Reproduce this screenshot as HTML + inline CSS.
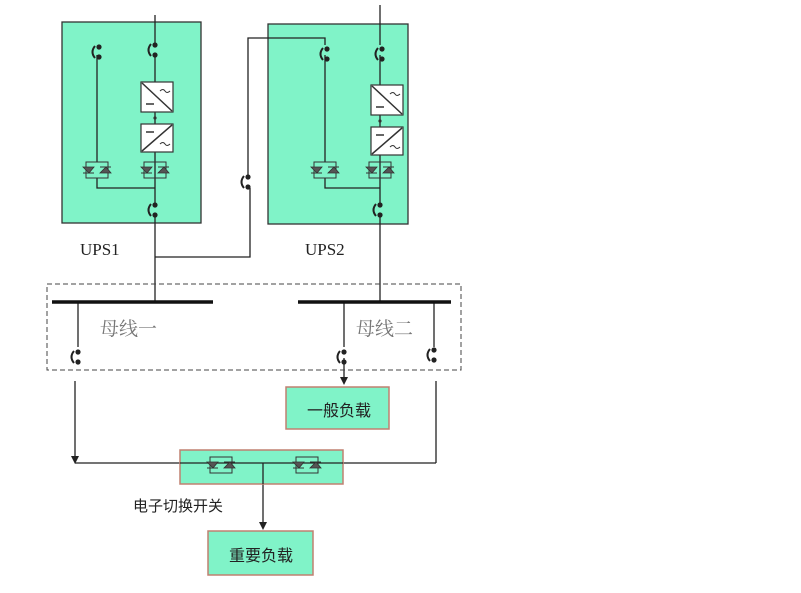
<!DOCTYPE html>
<html><head><meta charset="utf-8"><style>
html,body{margin:0;padding:0;background:#fff;width:801px;height:593px;overflow:hidden}
svg{display:block}
text{font-family:"Liberation Sans","Noto Sans CJK SC",sans-serif}
</style></head><body>
<svg width="801" height="593" viewBox="0 0 801 593" xmlns="http://www.w3.org/2000/svg">
<defs>
<g id="brk">
<path d="M-4,-6 Q-9,0 -4,6" fill="none" stroke="#222" stroke-width="2"/>
<circle cx="0" cy="-5" r="2.6" fill="#222"/>
<circle cx="0" cy="5" r="2.6" fill="#222"/>
</g>
<g id="thy">
<rect x="-11" y="-8" width="22" height="16" fill="none" stroke="#333" stroke-width="1"/>
<path d="M-14,-3 L-3,-3 L-8,3 Z" fill="#555" stroke="#333" stroke-width="0.8"/>
<line x1="-14" y1="3" x2="-3" y2="3" stroke="#333"/>
<path d="M3,3 L14,3 L9,-3 Z" fill="#555" stroke="#333" stroke-width="0.8"/>
<line x1="3" y1="-3" x2="14" y2="-3" stroke="#333"/>
</g>
<g id="rect">
<rect x="0" y="0" width="32" height="30" fill="#fff" stroke="#333" stroke-width="1.2"/>
<line x1="1" y1="1" x2="31" y2="29" stroke="#333" stroke-width="1.5"/>
<line x1="5" y1="22" x2="13" y2="22" stroke="#333" stroke-width="1.5"/>
<path d="M19,9 q3,-3 5,0 q2,3 5,0" fill="none" stroke="#333"/>
</g>
<g id="inv">
<rect x="0" y="0" width="32" height="28" fill="#fff" stroke="#333" stroke-width="1.2"/>
<line x1="1" y1="27" x2="31" y2="1" stroke="#333" stroke-width="1.5"/>
<line x1="5" y1="8" x2="13" y2="8" stroke="#333" stroke-width="1.5"/>
<path d="M19,20 q3,-3 5,0 q2,3 5,0" fill="none" stroke="#333"/>
</g>
</defs>

<rect x="62" y="22" width="139" height="201" fill="#80f3c8" stroke="#333" stroke-width="1.3"/>
<rect x="268" y="24" width="140" height="200" fill="#80f3c8" stroke="#333" stroke-width="1.3"/>

<g stroke="#222" stroke-width="1.3" fill="none">
<line x1="155" y1="15" x2="155" y2="45"/>
<line x1="155" y1="55" x2="155" y2="82"/>
<line x1="155" y1="112" x2="155" y2="124"/>
<line x1="155" y1="151" x2="155" y2="205"/>
<line x1="97" y1="55" x2="97" y2="162"/>
<polyline points="97,178 97,188 155,188"/>
<line x1="155" y1="215" x2="155" y2="302"/>
<line x1="380" y1="5" x2="380" y2="45"/>
<line x1="380" y1="55" x2="380" y2="85"/>
<line x1="380" y1="115" x2="380" y2="127"/>
<line x1="380" y1="155" x2="380" y2="205"/>
<polyline points="248,178 248,38 325,38 325,45"/>
<line x1="325" y1="55" x2="325" y2="162"/>
<polyline points="325,178 325,188 380,188"/>
<line x1="380" y1="215" x2="380" y2="302"/>
<polyline points="250,188 250,257 155,257"/>
<line x1="78" y1="302" x2="78" y2="347"/>
<line x1="344" y1="302" x2="344" y2="347"/>
<line x1="434" y1="302" x2="434" y2="347"/>
<line x1="344" y1="358" x2="344" y2="380"/>
<line x1="75" y1="381" x2="75" y2="458"/>
<line x1="436" y1="381" x2="436" y2="463"/>
<line x1="75" y1="463" x2="436" y2="463"/>
<line x1="263" y1="463" x2="263" y2="524"/>
</g>
<path d="M340,377 L348,377 L344,385 Z" fill="#222"/>
<path d="M71,456 L79,456 L75,464 Z" fill="#222"/>
<path d="M259,522 L267,522 L263,530 Z" fill="#222"/>

<use href="#rect" x="141" y="82"/>
<use href="#inv" x="141" y="124"/>
<circle cx="155" cy="118" r="1.6" fill="#333"/>
<use href="#rect" x="371" y="85"/>
<use href="#inv" x="371" y="127"/>
<circle cx="380" cy="121" r="1.6" fill="#333"/>
<use href="#thy" x="97" y="170"/>
<use href="#thy" x="155" y="170"/>
<use href="#thy" x="325" y="170"/>
<use href="#thy" x="380" y="170"/>

<use href="#brk" x="99" y="52"/>
<use href="#brk" x="155" y="50"/>
<use href="#brk" x="155" y="210"/>
<use href="#brk" x="327" y="54"/>
<use href="#brk" x="382" y="54"/>
<use href="#brk" x="380" y="210"/>
<use href="#brk" x="248" y="182"/>
<use href="#brk" x="78" y="357"/>
<use href="#brk" x="344" y="357"/>
<use href="#brk" x="434" y="355"/>

<text x="80" y="255" style="font-family:'Liberation Serif',serif;font-size:17px" fill="#222">UPS1</text>
<text x="305" y="255" style="font-family:'Liberation Serif',serif;font-size:17px" fill="#222">UPS2</text>

<rect x="47" y="284" width="414" height="86" fill="none" stroke="#444" stroke-width="1" stroke-dasharray="5,3"/>
<line x1="52" y1="302" x2="213" y2="302" stroke="#111" stroke-width="3.5"/>
<line x1="298" y1="302" x2="451" y2="302" stroke="#111" stroke-width="3.5"/>
<text x="100" y="335" style="font-family:'Liberation Serif','Noto Serif CJK SC',serif;font-size:19px" fill="#777">母线一</text>
<text x="356" y="335" style="font-family:'Liberation Serif','Noto Serif CJK SC',serif;font-size:19px" fill="#777">母线二</text>

<rect x="286" y="387" width="103" height="42" fill="#80f3c8" stroke="#c08070" stroke-width="1.5"/>
<text x="307" y="416" font-size="16" fill="#222">一般负载</text>
<rect x="180" y="450" width="163" height="34" fill="#80f3c8" stroke="#c08070" stroke-width="1.5"/>
<line x1="180" y1="463" x2="343" y2="463" stroke="#222" stroke-width="1.3"/>
<line x1="263" y1="463" x2="263" y2="484" stroke="#222" stroke-width="1.3"/>
<use href="#thy" x="221" y="465"/>
<use href="#thy" x="307" y="465"/>
<text x="133" y="511" font-size="15" fill="#222">电子切换开关</text>
<rect x="208" y="531" width="105" height="44" fill="#80f3c8" stroke="#c08070" stroke-width="1.5"/>
<text x="229" y="561" font-size="16" fill="#222">重要负载</text>
</svg>
</body></html>
